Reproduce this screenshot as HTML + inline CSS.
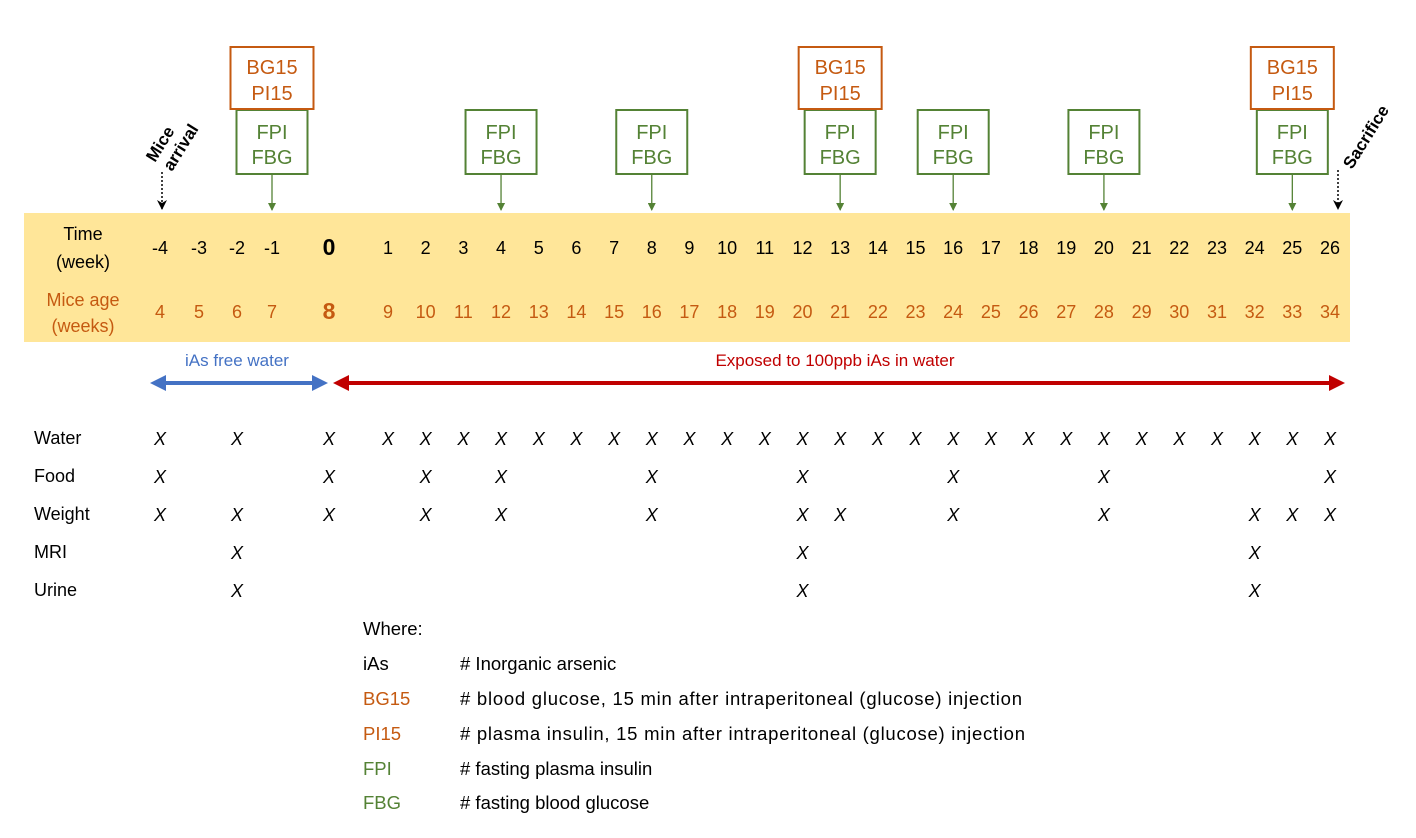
<!DOCTYPE html>
<html><head><meta charset="utf-8"><style>
html,body{margin:0;padding:0;background:#fff;width:1416px;height:838px;overflow:hidden}
svg text{font-family:"Liberation Sans",sans-serif}
</style></head><body>
<svg width="1416" height="838" xmlns="http://www.w3.org/2000/svg">
<defs>
<marker id="ga" markerWidth="8" markerHeight="8" refX="7" refY="4" orient="auto" markerUnits="userSpaceOnUse"><path d="M0,0 L8,4 L0,8 Z" fill="#548235"/></marker>
<marker id="ka" markerWidth="10" markerHeight="10" refX="9" refY="5" orient="auto" markerUnits="userSpaceOnUse"><path d="M0,0 L10,5 L0,10 L3,5 Z" fill="#000"/></marker>
</defs>
<rect x="24" y="213" width="1326" height="129" fill="#FFE699"/>
<g font-size="18" text-anchor="middle">
<text x="83" y="240">Time</text><text x="83" y="268">(week)</text>
<text x="83" y="306" fill="#C55A11">Mice age</text><text x="83" y="332" fill="#C55A11">(weeks)</text>
</g>
<g id="nums" font-size="18" text-anchor="middle"></g>
<g font-size="18.5">
<text x="363" y="635">Where:</text>
<text x="363" y="670">iAs</text><text x="460" y="670"># Inorganic arsenic</text>
<text x="363" y="705" fill="#C55A11">BG15</text><text x="460" y="705" textLength="562" lengthAdjust="spacing"># blood glucose, 15 min after intraperitoneal (glucose) injection</text>
<text x="363" y="740" fill="#C55A11">PI15</text><text x="460" y="740" textLength="565" lengthAdjust="spacing"># plasma insulin, 15 min after intraperitoneal (glucose) injection</text>
<text x="363" y="775" fill="#548235">FPI</text><text x="460" y="775"># fasting plasma insulin</text>
<text x="363" y="809" fill="#548235">FBG</text><text x="460" y="809"># fasting blood glucose</text>
</g>
<text x="237" y="366" font-size="17" fill="#4472C4" text-anchor="middle">iAs free water</text>
<text x="835" y="366" font-size="17" fill="#C00000" text-anchor="middle">Exposed to 100ppb iAs in water</text>
<line x1="162" y1="383" x2="316" y2="383" stroke="#4472C4" stroke-width="4"/>
<path d="M150,383 L166,375 L166,391 Z" fill="#4472C4"/>
<path d="M328,383 L312,375 L312,391 Z" fill="#4472C4"/>
<line x1="345" y1="383" x2="1332" y2="383" stroke="#C00000" stroke-width="4"/>
<path d="M333,383 L349,375 L349,391 Z" fill="#C00000"/>
<path d="M1345,383 L1329,375 L1329,391 Z" fill="#C00000"/>
<line x1="162" y1="172" x2="162" y2="209" stroke="#000" stroke-width="1.5" stroke-dasharray="2,2" marker-end="url(#ka)"/>
<line x1="1338" y1="170" x2="1338" y2="209" stroke="#000" stroke-width="1.5" stroke-dasharray="2,2" marker-end="url(#ka)"/>
<text x="0" y="0" font-size="17" font-weight="bold" transform="translate(155,163) rotate(-58)">Mice</text>
<text x="0" y="0" font-size="17" font-weight="bold" transform="translate(172,172) rotate(-58)">arrival</text>
<text x="0" y="0" font-size="17" font-weight="bold" transform="translate(1352,170) rotate(-58)">Sacrifice</text>
<g id="boxes"></g>
<g id="rows" font-size="18"></g>
</svg>
<script>
function X(w){var m={"-4":160,"-3":199,"-2":237,"-1":272,"0":329};if(w<=0)return m[w];return 388+(w-1)*37.68;}
var ns="http://www.w3.org/2000/svg";
function T(p,x,y,s,a){var t=document.createElementNS(ns,"text");t.setAttribute("x",x);t.setAttribute("y",y);for(var k in a)t.setAttribute(k,a[k]);t.textContent=s;p.appendChild(t);return t;}
var nums=document.getElementById("nums");
for(var w=-4;w<=26;w++){var x=X(w);
 if(w==0){T(nums,x,255,"0",{"font-weight":"bold","font-size":"23"});T(nums,x,319,"8",{"font-weight":"bold","font-size":"23",fill:"#C55A11"});}
 else{T(nums,x,254,String(w),{});T(nums,x,318,String(w+8),{fill:"#C55A11"});}}
var bx=document.getElementById("boxes");
function R(x,y,w,h,c){var r=document.createElementNS(ns,"rect");r.setAttribute("x",x);r.setAttribute("y",y);r.setAttribute("width",w);r.setAttribute("height",h);r.setAttribute("fill","#fff");r.setAttribute("stroke",c);r.setAttribute("stroke-width","2");bx.appendChild(r);}
[-1,4,8,13,16,20,25].forEach(function(w){var x=X(w);R(x-35.5,110,71,64,"#548235");
 T(bx,x,139,"FPI",{"font-size":"20","fill":"#548235","text-anchor":"middle"});T(bx,x,164,"FBG",{"font-size":"20","fill":"#548235","text-anchor":"middle"});
 var l=document.createElementNS(ns,"line");l.setAttribute("x1",x);l.setAttribute("x2",x);l.setAttribute("y1",175);l.setAttribute("y2",210);l.setAttribute("stroke","#548235");l.setAttribute("stroke-width","1.3");l.setAttribute("marker-end","url(#ga)");bx.appendChild(l);});
[-1,13,25].forEach(function(w){var x=X(w);R(x-41.5,47,83,62,"#C55A11");
 T(bx,x,74,"BG15",{"font-size":"20","fill":"#C55A11","text-anchor":"middle"});T(bx,x,100,"PI15",{"font-size":"20","fill":"#C55A11","text-anchor":"middle"});});
var rows=document.getElementById("rows");
var all=[-4,-2,0];for(var i=1;i<=26;i++)all.push(i);
var data=[["Water",438,all],["Food",476,[-4,0,2,4,8,12,16,20,26]],["Weight",514,[-4,-2,0,2,4,8,12,13,16,20,24,25,26]],["MRI",552,[-2,12,24]],["Urine",590,[-2,12,24]]];
data.forEach(function(d){T(rows,34,d[1]+6,d[0],{});d[2].forEach(function(w){T(rows,X(w),d[1]+7,"X",{"text-anchor":"middle","font-style":"italic","font-weight":"300"});});});
</script>
</body></html>
